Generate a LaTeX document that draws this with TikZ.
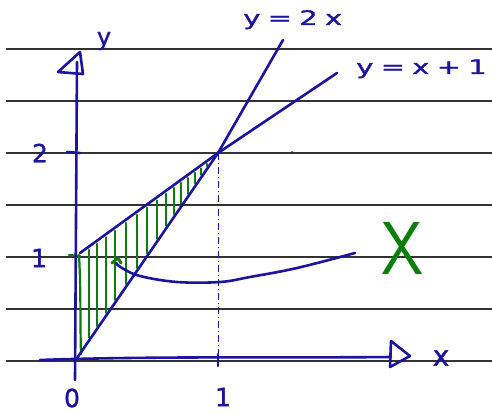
\documentclass[tikz,border=0pt]{standalone}
\usepackage{fontspec}
\setmainfont{DejaVu Sans}
\newfontfamily\hand{DejaVu Sans}[FakeBold=1.2]
\definecolor{pen}{RGB}{28,20,160}
\definecolor{hatch}{RGB}{10,128,10}
\begin{document}
\begin{tikzpicture}[x=1pt,y=-1pt,
  rule/.style={line width=1.3pt, draw=black!80},
  ink/.style={draw=pen, line width=2.6pt, line cap=round, line join=round},
  greenink/.style={draw=hatch, line width=2.2pt, line cap=round, line join=round},
  lab/.style={text=pen, font=\hand\fontsize{25}{25}\selectfont, inner sep=0pt},
  formula/.style={text=pen, font=\hand\fontsize{20}{20}\selectfont, inner sep=0pt, xscale=1.45, anchor=base west},
  big/.style={text=pen, font=\hand\fontsize{24}{24}\selectfont, inner sep=0pt}]
\useasboundingbox (0,0) rectangle (492,412);
\fill[white] (0,0) rectangle (492,412);
% ruled lines
\foreach \y in {49,101,153,205,257,309,361} \draw[rule] (6,\y) -- (492,\y);
% key points
\coordinate (O) at (75,361);
\coordinate (P) at (218,153);
\coordinate (A) at (80,253);
\coordinate (T2) at (283,40);
\coordinate (T1) at (337,73);
% hatching
\foreach \h in {89,97,106,115,126,137,147,157,166,174,181,188,195,201,207}{
  \pgfmathsetmacro\yt{257-(\h-75)/143*104+3}
  \pgfmathsetmacro\yb{361-(\h-75)/143*208-3}
  \draw[greenink] (\h,\yt) -- (\h,\yb);
}
\draw[greenink] (79,255) .. controls (81,290) and (80,320) .. (81,354);
\draw[greenink] (69,255) -- (80,256);
% dashed guide
\draw[pen, line width=1pt, dash pattern=on 7pt off 3pt on 1pt off 3pt] (P) -- (218,362);
\fill[pen] (292,152) circle (1pt);
% lines
\draw[ink] (O) -- (P) -- (T2);
\draw[ink] (A) -- (P) -- (T1);
% axes
\draw[ink] (75,380) -- (77,62);
\draw[ink] (58,72) -- (80,52) -- (83,74) -- cycle;
\draw[ink] (40,360) .. controls (150,356) and (300,358) .. (391,357);
\draw[ink] (391,341) -- (410,356) -- (390,367) -- cycle;
\draw[ink] (67,152) -- (80,153);
\draw[ink] (218,354) -- (218,366);
% pointer curve
\draw[ink] plot[smooth, tension=0.6] coordinates {(355,253) (297,268) (250,277) (220,282) (177,282) (140,276) (122,268) (116,263)};
\draw[greenink, line width=3pt] (112,263) -- (118,258) -- (121,263);
% labels
\node[big] (ylab) at (104,41) {y};
\node[big, font=\hand\fontsize{28}{28}\selectfont] (xlab) at (441,358) {x};
\node[lab] (l0) at (72,398) {0};
\node[lab] (l1x) at (223,397) {1};
\node[lab] (l1y) at (39,258) {1};
\node[lab] (l2y) at (40,153) {2};
\node[formula] (f1) at (243,25) {y\hspace{5pt}=\hspace{5pt}2\hspace{5pt}x};
\node[formula] (f2) at (356,74) {y\hspace{5pt}=\hspace{5pt}x\hspace{5pt}+\hspace{5pt}1};
\node[text=hatch, font=\sffamily\fontsize{75}{75}\selectfont, inner sep=0pt, xscale=0.9] (X) at (403,248) {X};
\end{tikzpicture}
\end{document}
